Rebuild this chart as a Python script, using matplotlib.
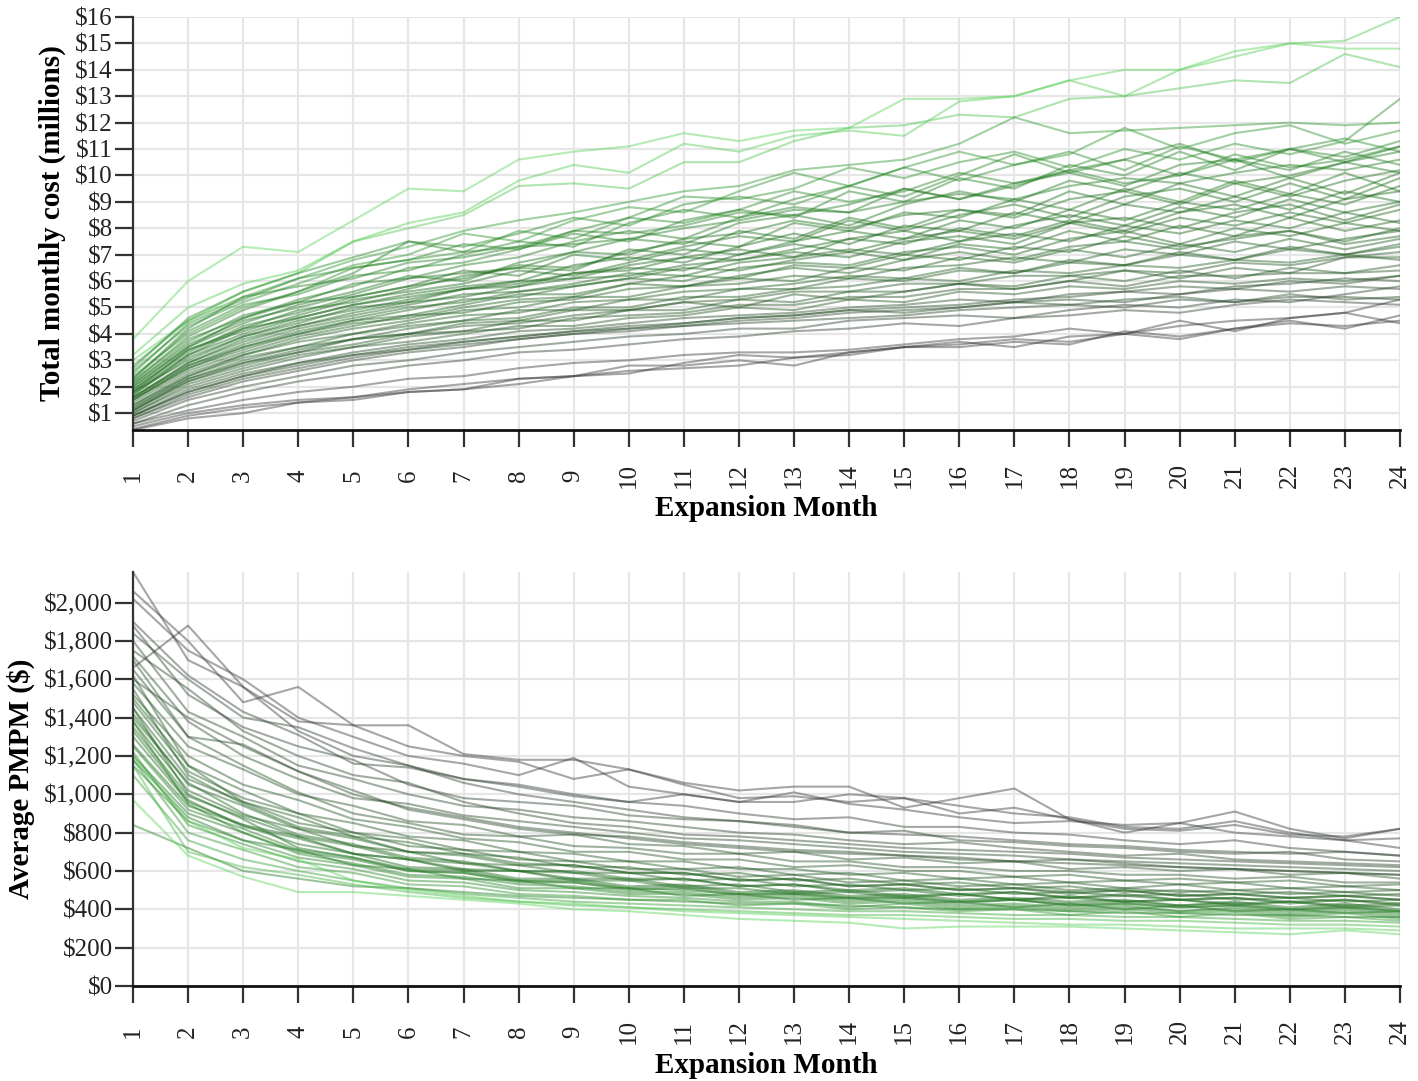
"""Simulated expansion runs: total monthly cost and average PMPM by month.

Each run is drawn as a thin translucent line, shaded from dark grey (small
enrolment) to light green (large enrolment).  Top panel is the total
monthly cost in millions, bottom panel is the per-member-per-month cost.
"""
import matplotlib
matplotlib.use("Agg")
import matplotlib.pyplot as plt
from matplotlib.colors import LinearSegmentedColormap
from matplotlib.ticker import FuncFormatter

MONTHS = list(range(1, 25))
COST_TICKS = list(range(1, 17))
PMPM_TICKS = list(range(0, 2001, 200))

# shade of each run: 0 = smallest enrolment, 1 = largest
COST_SHADES = [1.0, 0.96, 0.92, 0.72, 0.70, 0.68, 0.65, 0.63, 0.62, 0.60,
               0.60, 0.58, 0.58, 0.56, 0.54, 0.55, 0.52, 0.52, 0.50, 0.50,
               0.48, 0.48, 0.46, 0.47, 0.44, 0.45, 0.42, 0.43, 0.40, 0.40,
               0.37, 0.38, 0.35, 0.36, 0.32, 0.33, 0.30, 0.30, 0.28, 0.22,
               0.20, 0.25, 0.18, 0.15, 0.12, 0.10, 0.06, 0.04, 0.02, 0.0]

# total monthly cost, $ millions, months 1..24
COST_RUNS = [
    [3.8, 6.0, 7.3, 7.1, 8.3, 9.5, 9.4, 10.6, 10.9, 11.1, 11.6, 11.3, 11.7, 11.8, 12.9, 12.9, 13.0, 13.6, 14.0, 14.0, 14.7, 15.0, 14.8, 14.8],
    [3.2, 5.0, 5.9, 6.4, 7.5, 8.2, 8.6, 9.8, 10.4, 10.1, 11.2, 10.9, 11.5, 11.7, 11.5, 12.8, 13.0, 13.6, 13.0, 14.0, 14.5, 15.0, 15.1, 16.0],
    [3.0, 4.5, 5.6, 6.3, 7.5, 8.0, 8.5, 9.6, 9.7, 9.5, 10.5, 10.5, 11.3, 11.8, 11.9, 12.3, 12.2, 12.9, 13.0, 13.3, 13.6, 13.5, 14.6, 14.1],
    [2.8, 4.5, 5.4, 6.1, 6.8, 7.3, 7.9, 8.3, 8.6, 9.0, 9.4, 9.6, 10.2, 10.4, 10.6, 11.2, 12.2, 11.6, 11.7, 11.8, 11.9, 12.0, 11.9, 12.0],
    [2.6, 4.3, 5.2, 5.9, 6.6, 7.0, 7.8, 7.5, 8.3, 8.8, 8.6, 9.4, 10.1, 9.6, 10.3, 10.9, 10.4, 10.8, 11.8, 11.0, 11.6, 11.9, 11.2, 11.7],
    [2.4, 4.0, 5.0, 5.6, 6.5, 6.8, 7.1, 7.9, 7.6, 8.4, 9.2, 9.1, 9.5, 10.3, 9.9, 10.5, 10.9, 10.3, 11.0, 10.6, 11.2, 10.8, 11.3, 12.9],
    [2.7, 4.6, 5.6, 6.3, 6.9, 7.5, 7.3, 7.8, 8.4, 8.1, 8.9, 9.2, 8.9, 9.6, 10.3, 9.8, 10.4, 10.9, 10.2, 11.1, 10.6, 11.0, 11.4, 10.9],
    [2.5, 4.4, 5.3, 6.1, 6.5, 6.8, 7.4, 7.2, 7.9, 8.4, 8.2, 8.7, 9.4, 9.0, 9.4, 10.1, 9.7, 10.2, 10.6, 10.0, 10.8, 10.3, 10.6, 11.1],
    [2.3, 4.1, 5.1, 5.5, 6.2, 6.4, 7.0, 7.5, 7.3, 8.2, 8.7, 8.4, 9.1, 9.6, 9.2, 10.0, 10.8, 10.1, 10.6, 11.2, 10.5, 11.0, 10.7, 11.3],
    [2.2, 3.8, 4.6, 5.3, 5.8, 6.5, 6.7, 7.2, 7.8, 7.5, 8.3, 8.7, 8.4, 9.4, 9.0, 9.9, 9.5, 10.4, 10.0, 10.9, 10.2, 11.0, 10.5, 11.1],
    [2.3, 4.2, 5.4, 5.8, 6.1, 6.7, 6.9, 7.3, 7.9, 7.8, 8.1, 8.6, 8.5, 8.9, 9.5, 9.1, 9.6, 10.2, 9.7, 10.0, 10.6, 10.2, 10.9, 10.4],
    [2.2, 3.9, 4.9, 5.6, 6.3, 7.5, 7.1, 7.3, 7.4, 7.6, 8.0, 8.3, 8.7, 8.6, 9.0, 9.3, 9.1, 9.6, 9.9, 9.7, 10.1, 10.4, 10.2, 10.6],
    [2.1, 3.7, 4.7, 5.2, 5.9, 6.1, 6.6, 6.9, 7.5, 7.9, 7.6, 8.4, 8.8, 8.6, 9.5, 9.1, 9.7, 10.1, 9.6, 10.4, 10.6, 9.9, 10.5, 10.9],
    [2.0, 3.5, 4.4, 5.1, 5.6, 6.2, 6.0, 6.7, 7.1, 7.6, 7.4, 8.2, 8.5, 8.1, 8.9, 9.4, 9.0, 9.8, 9.4, 10.1, 9.7, 10.0, 10.5, 10.1],
    [2.1, 3.6, 4.5, 5.0, 5.5, 6.1, 6.3, 6.5, 7.1, 7.0, 7.6, 7.8, 8.3, 8.0, 8.5, 8.7, 8.4, 9.1, 9.4, 8.9, 9.7, 9.2, 9.8, 10.2],
    [1.9, 3.3, 4.3, 4.8, 5.4, 5.8, 6.1, 6.6, 6.5, 7.1, 7.5, 7.3, 8.2, 7.9, 8.6, 8.4, 9.1, 8.7, 9.5, 9.0, 9.8, 9.3, 10.1, 9.4],
    [1.8, 3.4, 4.2, 4.9, 5.2, 5.7, 6.2, 6.5, 6.4, 7.2, 7.0, 7.9, 7.6, 8.4, 8.0, 8.7, 8.5, 9.4, 8.9, 9.7, 9.2, 9.9, 9.3, 10.1],
    [2.0, 3.5, 4.6, 5.2, 5.4, 5.8, 6.4, 6.2, 7.0, 6.8, 7.3, 7.7, 7.5, 8.3, 7.9, 8.5, 8.9, 8.4, 9.2, 9.5, 9.0, 9.7, 9.1, 9.9],
    [1.9, 3.4, 4.1, 4.7, 5.3, 5.6, 5.9, 6.4, 6.2, 6.7, 7.2, 7.0, 7.5, 7.9, 7.6, 8.3, 8.0, 8.7, 8.3, 9.0, 8.7, 9.3, 8.9, 9.6],
    [1.7, 3.2, 4.0, 4.6, 5.1, 5.5, 5.8, 6.0, 6.6, 6.9, 6.7, 7.3, 7.8, 7.4, 8.1, 7.9, 8.6, 8.2, 8.9, 8.6, 9.2, 8.7, 9.4, 9.0],
    [1.8, 3.2, 4.2, 4.6, 5.1, 5.4, 5.7, 6.0, 6.1, 6.6, 6.9, 6.8, 7.2, 7.6, 7.4, 8.0, 7.7, 8.3, 7.9, 8.6, 8.9, 8.4, 9.1, 9.4],
    [1.8, 3.0, 3.9, 4.5, 4.9, 5.3, 5.7, 5.9, 6.3, 6.4, 6.9, 7.2, 6.9, 7.6, 7.9, 7.5, 8.1, 8.5, 8.1, 8.8, 8.4, 9.1, 8.6, 9.0],
    [1.7, 3.1, 3.9, 4.4, 5.0, 5.2, 5.7, 5.8, 6.3, 6.5, 6.4, 7.0, 7.4, 7.1, 7.6, 7.9, 7.6, 8.2, 8.4, 8.0, 8.6, 8.9, 8.3, 8.9],
    [1.6, 2.9, 3.8, 4.3, 4.8, 5.2, 5.4, 5.8, 6.1, 6.2, 6.6, 6.8, 7.1, 6.9, 7.5, 7.7, 7.4, 8.2, 7.8, 8.4, 8.1, 8.6, 8.2, 8.7],
    [1.6, 2.9, 3.7, 4.3, 4.7, 5.1, 5.5, 5.6, 5.9, 6.3, 6.2, 6.7, 6.9, 7.2, 7.0, 7.5, 7.8, 7.5, 8.1, 7.8, 8.3, 8.0, 8.6, 8.2],
    [1.5, 2.8, 3.6, 4.2, 4.6, 5.0, 5.2, 5.6, 5.8, 6.1, 6.5, 6.4, 6.8, 7.1, 6.8, 7.4, 7.2, 7.9, 7.5, 8.1, 7.7, 8.4, 7.9, 8.3],
    [1.6, 2.8, 3.5, 4.1, 4.5, 4.9, 5.3, 5.4, 5.8, 6.1, 6.0, 6.5, 6.7, 6.6, 7.1, 7.3, 7.0, 7.6, 7.9, 7.4, 8.0, 7.7, 8.2, 7.9],
    [1.5, 2.7, 3.5, 4.0, 4.5, 4.7, 5.1, 5.5, 5.5, 5.9, 6.2, 6.1, 6.6, 6.5, 7.0, 6.8, 7.3, 7.1, 7.7, 7.3, 7.6, 7.9, 7.5, 8.0],
    [1.4, 2.6, 3.3, 3.9, 4.3, 4.7, 4.8, 5.2, 5.3, 5.7, 5.8, 6.1, 6.0, 6.5, 6.4, 6.9, 6.7, 7.2, 6.9, 7.4, 7.1, 7.6, 7.2, 7.6],
    [1.5, 2.7, 3.4, 4.0, 4.4, 4.6, 5.0, 5.3, 5.4, 5.9, 5.8, 6.2, 6.5, 6.3, 6.8, 7.1, 6.8, 7.3, 7.5, 7.2, 7.7, 7.9, 7.4, 7.7],
    [1.3, 2.5, 3.2, 3.8, 4.2, 4.5, 4.9, 5.0, 5.4, 5.4, 5.8, 5.9, 6.2, 6.1, 6.5, 6.6, 6.9, 6.7, 7.2, 7.0, 7.5, 7.2, 7.6, 7.9],
    [1.3, 2.4, 3.2, 3.7, 4.0, 4.4, 4.7, 4.8, 5.2, 5.3, 5.6, 5.7, 5.9, 6.2, 6.1, 6.5, 6.3, 6.8, 6.6, 7.1, 6.8, 7.2, 7.0, 7.3],
    [1.2, 2.4, 3.1, 3.5, 4.0, 4.3, 4.5, 4.9, 4.9, 5.3, 5.3, 5.7, 5.7, 6.1, 6.0, 6.4, 6.3, 6.7, 6.6, 7.0, 6.8, 7.3, 7.0, 7.4],
    [1.2, 2.3, 3.0, 3.5, 3.8, 4.2, 4.5, 4.6, 5.0, 5.0, 5.4, 5.4, 5.7, 5.8, 6.1, 6.0, 6.4, 6.3, 6.6, 6.5, 6.8, 6.7, 7.0, 6.8],
    [1.1, 2.3, 2.9, 3.4, 3.8, 4.0, 4.4, 4.5, 4.9, 4.9, 5.2, 5.3, 5.6, 5.6, 5.9, 5.9, 6.2, 6.2, 6.4, 6.3, 6.7, 6.6, 6.9, 6.9],
    [1.1, 2.2, 2.8, 3.3, 3.6, 4.0, 4.1, 4.5, 4.5, 4.9, 4.9, 5.3, 5.2, 5.6, 5.6, 5.9, 5.8, 6.2, 6.0, 6.4, 6.1, 6.5, 6.3, 6.4],
    [1.1, 2.2, 2.9, 3.3, 3.8, 4.0, 4.3, 4.4, 4.7, 4.9, 5.2, 5.0, 5.5, 5.3, 5.6, 5.9, 5.7, 6.0, 6.4, 6.1, 6.5, 6.3, 6.9, 7.1],
    [1.0, 2.0, 2.6, 3.1, 3.5, 3.7, 4.0, 4.3, 4.3, 4.6, 4.7, 5.0, 4.9, 5.3, 5.2, 5.6, 5.5, 5.8, 5.7, 6.0, 5.9, 6.1, 6.0, 6.2],
    [1.0, 2.1, 2.7, 3.2, 3.5, 3.9, 4.1, 4.2, 4.6, 4.7, 4.8, 5.1, 5.1, 5.4, 5.4, 5.7, 5.7, 6.0, 5.8, 6.2, 6.2, 6.3, 6.3, 6.6],
    [0.9, 1.9, 2.5, 2.9, 3.3, 3.6, 3.8, 4.1, 4.2, 4.4, 4.6, 4.7, 4.8, 5.0, 5.1, 5.3, 5.2, 5.5, 5.6, 5.8, 5.7, 6.0, 5.9, 6.2],
    [0.9, 1.8, 2.4, 2.8, 3.2, 3.5, 3.7, 3.9, 4.1, 4.3, 4.4, 4.6, 4.7, 4.9, 5.0, 5.1, 5.3, 5.4, 5.6, 5.5, 5.8, 5.9, 6.1, 6.0],
    [0.9, 1.8, 2.4, 2.9, 3.2, 3.4, 3.7, 3.9, 4.1, 4.2, 4.4, 4.6, 4.7, 4.9, 4.8, 5.0, 5.2, 5.1, 5.3, 5.4, 5.2, 5.5, 5.3, 5.4],
    [0.8, 1.7, 2.3, 2.7, 3.1, 3.4, 3.6, 3.8, 4.0, 4.2, 4.3, 4.5, 4.6, 4.8, 4.9, 5.0, 5.2, 5.3, 5.2, 5.5, 5.7, 5.6, 5.8, 5.7],
    [0.8, 1.6, 2.2, 2.6, 3.0, 3.3, 3.5, 3.8, 4.0, 4.1, 4.3, 4.4, 4.5, 4.6, 4.7, 4.9, 5.0, 5.1, 5.0, 5.3, 5.2, 5.4, 5.4, 5.3],
    [0.7, 1.5, 2.0, 2.4, 2.8, 3.0, 3.3, 3.5, 3.7, 3.9, 4.0, 4.2, 4.2, 4.5, 4.6, 4.7, 4.6, 4.9, 5.1, 5.0, 5.3, 5.2, 5.5, 5.8],
    [0.6, 1.3, 1.8, 2.2, 2.5, 2.8, 3.0, 3.3, 3.4, 3.6, 3.8, 3.9, 4.1, 4.2, 4.4, 4.3, 4.6, 4.7, 4.9, 4.8, 5.1, 5.3, 5.2, 5.1],
    [0.6, 1.1, 1.5, 1.8, 2.0, 2.3, 2.4, 2.7, 2.9, 3.0, 3.2, 3.3, 3.3, 3.4, 3.6, 3.8, 3.9, 4.2, 4.0, 4.5, 4.1, 4.6, 4.8, 5.3],
    [0.5, 1.0, 1.3, 1.5, 1.6, 1.9, 2.1, 2.3, 2.4, 2.6, 2.7, 2.8, 3.1, 3.2, 3.5, 3.7, 3.5, 3.9, 4.0, 4.3, 4.5, 4.6, 4.8, 4.4],
    [0.4, 0.9, 1.2, 1.4, 1.6, 1.8, 1.9, 2.3, 2.4, 2.8, 2.8, 3.0, 2.8, 3.3, 3.5, 3.6, 3.8, 3.7, 4.0, 3.8, 4.2, 4.5, 4.2, 4.7],
    [0.36, 0.8, 1.0, 1.4, 1.5, 1.8, 1.9, 2.1, 2.4, 2.5, 2.9, 3.2, 3.1, 3.3, 3.5, 3.5, 3.7, 3.6, 4.1, 3.9, 4.2, 4.4, 4.3, 4.5],
]

PMPM_SHADES = [0.0, 0.04, 0.02, 0.06, 0.10, 0.10, 0.12, 0.15, 0.15, 0.18,
               0.20, 0.20, 0.25, 0.25, 0.30, 0.30, 0.35, 0.35, 0.38, 0.40,
               0.40, 0.42, 0.45, 0.45, 0.48, 0.50, 0.50, 0.52, 0.55, 0.55,
               0.60, 0.60, 0.62, 0.62, 0.65, 0.70, 0.75, 0.85, 0.95, 1.0]

# average per-member-per-month cost, $, months 1..24
PMPM_RUNS = [
    [2160, 1700, 1560, 1380, 1360, 1360, 1210, 1180, 1180, 1130, 1060, 1020, 1040, 1040, 930, 980, 1030, 870, 800, 850, 910, 820, 770, 820],
    [1660, 1880, 1560, 1330, 1200, 1150, 1080, 1050, 1000, 960, 1000, 960, 1010, 950, 920, 880, 850, 860, 840, 850, 800, 780, 760, 770],
    [2060, 1800, 1480, 1560, 1360, 1250, 1200, 1170, 1080, 1130, 1050, 980, 990, 960, 980, 940, 900, 880, 830, 820, 860, 800, 760, 720],
    [2020, 1750, 1600, 1400, 1300, 1200, 1160, 1100, 1190, 1040, 1000, 960, 960, 1000, 980, 900, 930, 870, 820, 810, 840, 790, 780, 820],
    [1840, 1600, 1400, 1350, 1240, 1150, 1060, 1000, 960, 920, 880, 860, 830, 800, 790, 780, 760, 740, 730, 710, 700, 690, 700, 680],
    [1900, 1620, 1430, 1310, 1160, 1140, 1080, 1040, 990, 960, 940, 900, 870, 880, 830, 830, 800, 790, 760, 740, 760, 720, 700, 680],
    [1880, 1520, 1350, 1250, 1180, 1050, 980, 960, 940, 890, 870, 860, 840, 800, 810, 760, 750, 730, 720, 700, 690, 700, 660, 650],
    [1750, 1550, 1330, 1200, 1100, 1060, 960, 900, 850, 830, 790, 780, 760, 740, 720, 710, 700, 690, 670, 660, 650, 640, 630, 620],
    [1800, 1430, 1300, 1150, 1080, 1000, 940, 920, 880, 860, 830, 800, 790, 760, 740, 750, 720, 700, 680, 690, 660, 650, 640, 630],
    [1600, 1400, 1250, 1120, 1000, 930, 880, 830, 800, 770, 740, 720, 700, 690, 680, 660, 650, 640, 630, 620, 610, 600, 590, 580],
    [1720, 1380, 1200, 1080, 980, 950, 890, 860, 830, 800, 770, 760, 740, 720, 700, 690, 680, 660, 650, 640, 630, 620, 610, 600],
    [1650, 1300, 1260, 1120, 1020, 920, 870, 820, 790, 780, 750, 730, 710, 700, 680, 670, 650, 660, 640, 620, 610, 600, 590, 580],
    [1580, 1250, 1130, 1000, 940, 860, 840, 780, 790, 740, 730, 690, 700, 660, 670, 640, 650, 610, 620, 600, 610, 580, 590, 560],
    [1700, 1300, 1150, 1010, 900, 850, 790, 780, 730, 720, 690, 690, 650, 650, 620, 620, 600, 600, 580, 580, 560, 570, 540, 540],
    [1520, 1200, 1050, 970, 870, 830, 770, 750, 700, 700, 660, 660, 620, 630, 600, 600, 570, 580, 550, 560, 540, 550, 520, 530],
    [1620, 1150, 1020, 900, 850, 780, 760, 700, 690, 650, 650, 610, 610, 580, 590, 560, 570, 540, 550, 530, 540, 510, 520, 500],
    [1480, 1120, 980, 900, 800, 770, 710, 700, 650, 650, 610, 620, 580, 590, 550, 560, 530, 540, 510, 530, 500, 510, 490, 500],
    [1450, 1080, 960, 850, 800, 730, 710, 660, 650, 610, 610, 570, 580, 540, 550, 520, 530, 500, 510, 490, 500, 480, 490, 470],
    [1500, 1150, 960, 880, 780, 750, 690, 670, 620, 620, 580, 590, 550, 560, 530, 540, 510, 520, 490, 500, 480, 490, 470, 480],
    [1420, 1050, 940, 820, 770, 700, 680, 630, 630, 590, 590, 550, 560, 520, 530, 500, 510, 490, 500, 470, 480, 460, 470, 450],
    [1380, 1020, 890, 820, 730, 700, 640, 630, 590, 590, 550, 560, 520, 530, 500, 510, 480, 490, 470, 480, 450, 460, 440, 450],
    [1550, 1100, 950, 830, 780, 700, 690, 640, 630, 590, 590, 550, 560, 520, 530, 500, 510, 480, 500, 470, 480, 460, 470, 450],
    [1350, 990, 880, 780, 730, 660, 640, 600, 590, 550, 560, 520, 530, 490, 500, 470, 490, 460, 470, 450, 460, 430, 450, 420],
    [1300, 960, 840, 780, 690, 660, 610, 600, 560, 560, 520, 530, 490, 500, 470, 480, 450, 470, 440, 450, 430, 440, 420, 430],
    [1400, 1060, 900, 790, 740, 670, 650, 600, 600, 560, 560, 520, 530, 500, 510, 480, 490, 460, 480, 450, 460, 440, 450, 430],
    [1260, 940, 840, 740, 690, 620, 610, 560, 560, 520, 530, 490, 500, 470, 480, 450, 460, 440, 450, 420, 440, 410, 430, 400],
    [1450, 1000, 870, 720, 670, 610, 600, 550, 550, 510, 520, 480, 490, 460, 470, 440, 450, 430, 440, 420, 430, 400, 420, 390],
    [1330, 970, 830, 770, 690, 660, 600, 600, 550, 550, 510, 510, 480, 490, 460, 480, 450, 460, 440, 450, 420, 440, 410, 420],
    [1200, 900, 800, 700, 660, 600, 590, 540, 540, 500, 510, 470, 480, 450, 460, 430, 450, 420, 430, 410, 420, 390, 410, 380],
    [1180, 880, 760, 710, 630, 610, 560, 550, 510, 510, 470, 480, 450, 460, 430, 440, 410, 430, 400, 420, 390, 400, 380, 390],
    [840, 720, 600, 560, 520, 510, 490, 470, 460, 450, 440, 430, 430, 420, 410, 400, 400, 390, 380, 380, 370, 370, 360, 360],
    [1250, 920, 820, 710, 670, 600, 590, 550, 540, 510, 500, 480, 480, 460, 460, 440, 450, 420, 430, 410, 420, 400, 410, 390],
    [1150, 860, 760, 670, 630, 570, 560, 510, 510, 480, 480, 450, 460, 430, 440, 410, 420, 400, 410, 390, 400, 370, 390, 360],
    [1380, 950, 800, 690, 640, 580, 570, 530, 520, 490, 490, 460, 470, 440, 450, 420, 430, 410, 420, 390, 410, 380, 400, 370],
    [1220, 840, 740, 650, 610, 550, 540, 500, 490, 470, 460, 440, 440, 410, 430, 400, 410, 390, 400, 380, 390, 360, 380, 350],
    [1180, 800, 710, 620, 590, 530, 520, 480, 470, 450, 450, 420, 430, 400, 410, 390, 400, 370, 390, 360, 380, 350, 360, 340],
    [1100, 760, 660, 600, 550, 510, 480, 460, 440, 430, 420, 410, 400, 390, 390, 380, 370, 370, 360, 360, 350, 340, 340, 330],
    [1150, 700, 620, 580, 530, 490, 460, 440, 420, 410, 400, 390, 380, 370, 370, 360, 350, 350, 340, 340, 330, 320, 320, 310],
    [1200, 860, 720, 660, 550, 500, 470, 440, 430, 410, 390, 380, 370, 360, 350, 340, 330, 320, 320, 310, 300, 300, 300, 290],
    [970, 680, 570, 490, 490, 470, 450, 430, 400, 390, 370, 350, 340, 330, 300, 310, 310, 310, 300, 290, 280, 270, 290, 270],
]

RUN_CMAP = LinearSegmentedColormap.from_list(
    "runs", [(0.0, "#3a3a3a"), (0.5, "#1a6a1a"), (0.75, "#35a035"), (1.0, "#5cd65c")])

plt.rcParams["font.family"] = ["Liberation Serif", "DejaVu Serif"]


def draw_panel(ax, runs, shades, yticks, fmt, ylabel, ylim, ylabel_x, xlabel_y):
    for values, shade in zip(runs, shades):
        ax.plot(MONTHS, values, color=RUN_CMAP(shade), alpha=0.45,
                linewidth=1.5, zorder=2)

    ax.set_xlim(MONTHS[0], MONTHS[-1])
    ax.set_ylim(*ylim)
    ax.set_xticks(MONTHS, labels=[str(m) for m in MONTHS], rotation=90,
                  va="center", ha="center")
    ax.set_yticks(yticks)
    ax.yaxis.set_major_formatter(FuncFormatter(fmt))

    ax.grid(True, color="#e6e6e6", linewidth=1.6)
    ax.set_axisbelow(True)
    for side in ("top", "right"):
        ax.spines[side].set_visible(False)
    ax.spines["left"].set_color("#333333")
    ax.spines["left"].set_linewidth(1.6)
    ax.spines["bottom"].set_color("#111111")
    ax.spines["bottom"].set_linewidth(2.0)

    ax.tick_params(axis="x", length=12.5, width=1.6, color="#333333",
                   pad=20.5, labelsize=18, labelcolor="#222222")
    ax.tick_params(axis="y", length=13, width=1.6, color="#333333",
                   pad=1.5, labelsize=18, labelcolor="#222222")

    ax.set_xlabel("Expansion Month", fontsize=21, fontweight="bold",
                  va="center")
    ax.xaxis.set_label_coords(0.5, xlabel_y)
    ax.set_ylabel(ylabel, fontsize=21, fontweight="bold", va="center")
    ax.yaxis.set_label_coords(ylabel_x, 0.5)


def main():
    fig = plt.figure(figsize=(14.18, 10.81), dpi=100)
    ax_cost = fig.add_axes([0.0938, 0.6022, 0.8935, 0.3821])
    ax_pmpm = fig.add_axes([0.0938, 0.0879, 0.8935, 0.3830])

    cost_all = [v for run in COST_RUNS for v in run]
    pmpm_all = [v for run in PMPM_RUNS for v in run]

    draw_panel(ax_cost, COST_RUNS, COST_SHADES, COST_TICKS,
               lambda v, _: f"${v:.0f}", "Total monthly cost (millions)",
               (min(cost_all), max(cost_all)), -0.064, -0.189)
    draw_panel(ax_pmpm, PMPM_RUNS, PMPM_SHADES, PMPM_TICKS,
               lambda v, _: f"${v:,.0f}", "Average PMPM ($)",
               (0, max(pmpm_all)), -0.0884, -0.191)

    fig.savefig("out.png", dpi=100, facecolor="white")


if __name__ == "__main__":
    main()
